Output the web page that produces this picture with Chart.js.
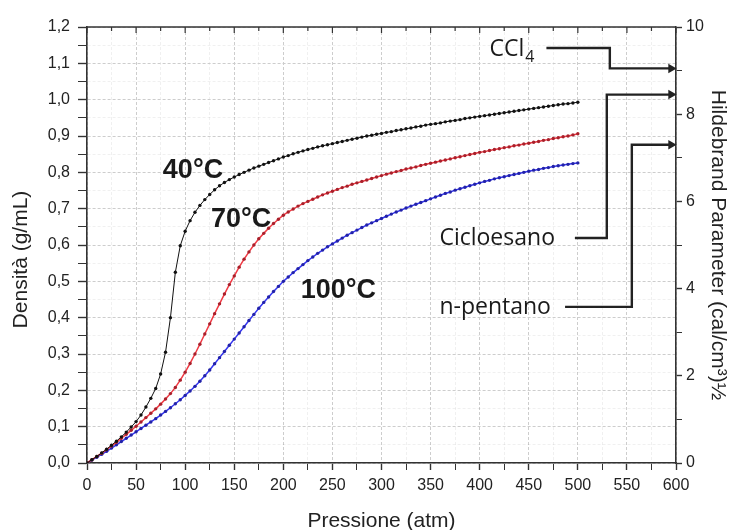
<!DOCTYPE html>
<html>
<head>
<meta charset="utf-8">
<script src="https://cdn.jsdelivr.net/npm/chart.js@4.4.1/dist/chart.umd.min.js"></script>
<style>
  html, body { margin: 0; padding: 0; background: #fff; }
  #box { width: 730px; height: 530px; }
</style>
</head>
<body>
<div id="box"><canvas id="densita"></canvas></div>
<script>
// pressione (atm)
const pressione = [
  0, 5, 10, 15, 20, 25, 30, 35, 40, 45, 50, 55, 60, 65, 70, 75, 80, 85, 90, 95,
  100, 105, 110, 115, 120, 125, 130, 135, 140, 145, 150, 155, 160, 165, 170, 175, 180, 185, 190, 195,
  200, 205, 210, 215, 220, 225, 230, 235, 240, 245, 250, 255, 260, 265, 270, 275, 280, 285, 290, 295,
  300, 305, 310, 315, 320, 325, 330, 335, 340, 345, 350, 355, 360, 365, 370, 375, 380, 385, 390, 395,
  400, 405, 410, 415, 420, 425, 430, 435, 440, 445, 450, 455, 460, 465, 470, 475, 480, 485, 490, 495,
  500
];

// densita CO2 (g/mL) alle tre temperature
const dens40 = [
  0.000, 0.009, 0.018, 0.028, 0.038, 0.049, 0.060, 0.072, 0.085, 0.099, 0.114, 0.132, 0.154, 0.178, 0.205, 0.245, 0.305, 0.400, 0.525, 0.598,
  0.638, 0.667, 0.690, 0.709, 0.725, 0.739, 0.752, 0.763, 0.772, 0.780, 0.787, 0.794, 0.800, 0.806, 0.812, 0.817, 0.822, 0.827, 0.832, 0.837,
  0.842, 0.846, 0.851, 0.855, 0.859, 0.863, 0.866, 0.870, 0.873, 0.876, 0.879, 0.882, 0.885, 0.888, 0.891, 0.894, 0.897, 0.900, 0.902, 0.905,
  0.907, 0.910, 0.912, 0.915, 0.917, 0.920, 0.922, 0.925, 0.927, 0.930, 0.932, 0.934, 0.936, 0.939, 0.941, 0.943, 0.945, 0.948, 0.950, 0.952,
  0.954, 0.956, 0.958, 0.960, 0.962, 0.964, 0.966, 0.968, 0.970, 0.972, 0.974, 0.976, 0.978, 0.980, 0.982, 0.984, 0.986, 0.988, 0.989, 0.991,
  0.993
];
const dens70 = [
  0.000, 0.009, 0.018, 0.027, 0.037, 0.047, 0.057, 0.068, 0.079, 0.090, 0.101, 0.113, 0.125, 0.137, 0.149, 0.162, 0.176, 0.191, 0.208, 0.228,
  0.250, 0.274, 0.300, 0.327, 0.355, 0.383, 0.411, 0.438, 0.465, 0.491, 0.515, 0.539, 0.561, 0.581, 0.600, 0.617, 0.632, 0.646, 0.659, 0.671,
  0.682, 0.691, 0.699, 0.707, 0.714, 0.720, 0.726, 0.732, 0.738, 0.743, 0.748, 0.753, 0.758, 0.762, 0.767, 0.771, 0.775, 0.779, 0.783, 0.787,
  0.791, 0.795, 0.798, 0.802, 0.805, 0.809, 0.812, 0.815, 0.819, 0.822, 0.825, 0.828, 0.831, 0.834, 0.837, 0.840, 0.843, 0.846, 0.849, 0.852,
  0.855, 0.857, 0.860, 0.863, 0.865, 0.868, 0.870, 0.873, 0.875, 0.878, 0.880, 0.883, 0.885, 0.888, 0.890, 0.893, 0.895, 0.898, 0.900, 0.903,
  0.906
];
const dens100 = [
  0.000, 0.008, 0.016, 0.024, 0.032, 0.041, 0.050, 0.059, 0.068, 0.077, 0.086, 0.095, 0.104, 0.113, 0.122, 0.132, 0.142, 0.152, 0.163, 0.174,
  0.186, 0.198, 0.211, 0.225, 0.240, 0.256, 0.273, 0.290, 0.307, 0.324, 0.341, 0.358, 0.375, 0.392, 0.409, 0.426, 0.442, 0.457, 0.472, 0.486,
  0.500, 0.512, 0.524, 0.535, 0.546, 0.557, 0.567, 0.577, 0.586, 0.595, 0.603, 0.611, 0.619, 0.627, 0.634, 0.641, 0.648, 0.655, 0.661, 0.667,
  0.673, 0.679, 0.685, 0.691, 0.696, 0.702, 0.707, 0.712, 0.717, 0.722, 0.727, 0.732, 0.737, 0.742, 0.746, 0.751, 0.755, 0.759, 0.763, 0.767,
  0.771, 0.775, 0.778, 0.782, 0.785, 0.788, 0.791, 0.794, 0.797, 0.800, 0.803, 0.806, 0.808, 0.811, 0.813, 0.816, 0.818, 0.820, 0.822, 0.824,
  0.826
];
const temperature = ['40°C', '70°C', '100°C'];

// parametro di Hildebrand dei solventi, (cal/cm3)^1/2
const solventi = ['CCl4', 'Cicloesano', 'n-pentano'];
const hildebrand = [9.05, 8.45, 7.3];

// dove mettere le scritte (atm, g/mL) e i percorsi delle frecce (atm, asse destro)
const posTemp = [[108, 0.806], [157, 0.669], [256, 0.476]];
const frecce = [
  { testo: [410, 9.48], da: 468, gomito: 532.6, quota: 9.52 },
  { testo: [359, 5.14], da: 497, gomito: 529.5, quota: 5.16 },
  { testo: [359, 3.56], da: 487, gomito: 555, quota: 3.58 }
];

const punti = arr => pressione.map((p, i) => ({ x: p, y: arr[i] }));

const serie = [
  { data: punti(dens40), borderColor: '#111', borderWidth: 1, pointBackgroundColor: '#111' },
  { data: punti(dens70), borderColor: '#f03a44', borderWidth: 1.5, pointBackgroundColor: '#a8202b' },
  { data: punti(dens100), borderColor: '#3434f0', borderWidth: 1.5, pointBackgroundColor: '#2222a8' }
].map((d, i) => Object.assign(d, {
  label: temperature[i], yAxisID: 'y', pointRadius: 1.7, pointBorderWidth: 0, pointHoverRadius: 0
}));

// linee delle frecce verso l'asse di destra
const linee = frecce.map((f, i) => ({
  label: solventi[i],
  yAxisID: 'y2',
  data: [
    { x: f.da, y: f.quota },
    { x: f.gomito, y: f.quota },
    { x: f.gomito, y: hildebrand[i] },
    { x: 595, y: hildebrand[i] }
  ],
  borderColor: '#222',
  borderWidth: 2.4,
  pointRadius: [0, 0, 0, 5.5],
  pointStyle: 'triangle',
  pointRotation: 90,
  pointBackgroundColor: '#222',
  pointBorderWidth: 0,
  clip: false
}));

const isMajor = (v, step) => Math.abs(v / step - Math.round(v / step)) < 1e-6;

// cornice in alto con le tacche rivolte verso l'interno
const cornice = {
  id: 'cornice',
  afterDraw(chart) {
    const { ctx, chartArea: a, scales: { x } } = chart;
    ctx.save();
    ctx.strokeStyle = '#333';
    ctx.lineWidth = 1.5;
    ctx.beginPath();
    ctx.moveTo(a.left, a.top);
    ctx.lineTo(a.right, a.top);
    ctx.stroke();
    ctx.lineWidth = 1.2;
    x.ticks.forEach(t => {
      const px = x.getPixelForValue(t.value);
      const len = isMajor(t.value, 50) ? 6 : 4;
      ctx.beginPath();
      ctx.moveTo(px, a.top);
      ctx.lineTo(px, a.top + len);
      ctx.stroke();
    });
    ctx.restore();
  }
};

const fontSolv = '23px "Open Sans", sans-serif';
const fontTitolo = '21px "Liberation Sans", Arial, sans-serif';

const scritte = {
  id: 'scritte',
  afterDatasetsDraw(chart) {
    const { ctx, scales: { x, y, y2 } } = chart;
    ctx.save();
    ctx.fillStyle = '#1a1a1a';
    ctx.textBaseline = 'middle';
    ctx.textAlign = 'center';
    ctx.font = 'bold 27px "Liberation Sans", Arial, sans-serif';
    temperature.forEach((t, i) => {
      ctx.fillText(t, x.getPixelForValue(posTemp[i][0]), y.getPixelForValue(posTemp[i][1]));
    });

    ctx.textAlign = 'left';
    frecce.forEach((f, i) => {
      const px = x.getPixelForValue(f.testo[0]);
      const py = y2.getPixelForValue(f.testo[1]);
      ctx.font = fontSolv;
      if (solventi[i] === 'CCl4') {
        const w = ctx.measureText('CCl').width;
        ctx.fillText('CCl', px, py);
        ctx.font = '16px "Open Sans", sans-serif';
        ctx.fillText('4', px + w + 1, py + 8);
      } else {
        ctx.fillText(solventi[i], px, py);
      }
    });

    // titolo dell'asse sinistro, un po' sotto il centro del grafico
    ctx.fillStyle = '#222';
    ctx.font = fontTitolo;
    ctx.textAlign = 'center';
    ctx.translate(21, y.getPixelForValue(0.56));
    ctx.rotate(-Math.PI / 2);
    ctx.fillText('Densità (g/mL)', 0, 0);
    ctx.restore();
  }
};

const tickFont = { family: '"Liberation Sans", Arial, sans-serif', size: 16 };
const titleFont = { family: '"Liberation Sans", Arial, sans-serif', size: 21 };
const gridMaj = '#cdcdcd';
const gridMin = 'rgba(0,0,0,0.06)';

new Chart(document.getElementById('densita'), {
  type: 'line',
  data: { datasets: serie.concat(linee) },
  options: {
    responsive: true,
    maintainAspectRatio: false,
    animation: false,
    layout: { padding: { top: 27, left: 0, right: 0, bottom: 0 } },
    plugins: { legend: { display: false }, tooltip: { enabled: false } },
    scales: {
      x: {
        type: 'linear',
        min: 0, max: 600,
        afterFit: s => { s.height = 67; },
        ticks: {
          stepSize: 25, autoSkip: false, maxRotation: 0, color: '#222', font: tickFont, padding: 6,
          callback: v => isMajor(v, 50) ? v : ''
        },
        grid: {
          color: c => isMajor(c.tick.value, 50) ? gridMaj : gridMin,
          tickColor: '#333',
          tickLength: 7,
          tickWidth: c => isMajor(c.tick.value, 50) ? 1.4 : 1
        },
        border: { color: '#333', width: 1.6, dash: [3, 2] },
        title: { display: true, text: 'Pressione (atm)', color: '#222', font: titleFont, padding: { top: -4, bottom: -4 } }
      },
      y: {
        min: 0, max: 1.2,
        afterFit: s => { s.width = 87; },
        ticks: {
          stepSize: 0.05, autoSkip: false, color: '#222', font: tickFont, padding: 8,
          callback: v => isMajor(v, 0.1) ? v.toFixed(1).replace('.', ',') : ''
        },
        grid: {
          color: c => isMajor(c.tick.value, 0.1) ? gridMaj : gridMin,
          tickColor: '#333',
          tickLength: 9,
          tickWidth: c => isMajor(c.tick.value, 0.1) ? 1.4 : 1
        },
        border: { color: '#333', width: 1.6, dash: [3, 2] },
        title: { display: false }
      },
      y2: {
        position: 'right',
        min: 0, max: 10,
        afterFit: s => { s.width = 54; },
        ticks: {
          stepSize: 1, autoSkip: false, color: '#222', font: tickFont, padding: 4,
          callback: v => isMajor(v, 2) ? v : ''
        },
        grid: {
          drawOnChartArea: false,
          tickColor: '#333',
          tickLength: 6,
          tickWidth: c => isMajor(c.tick.value, 2) ? 1.4 : 1
        },
        border: { color: '#333', width: 1.6 },
        title: { display: true, text: 'Hildebrand Parameter (cal/cm³)½', color: '#222', font: titleFont, padding: { top: 0 } }
      }
    }
  },
  plugins: [cornice, scritte]
});
</script>
</body>
</html>
